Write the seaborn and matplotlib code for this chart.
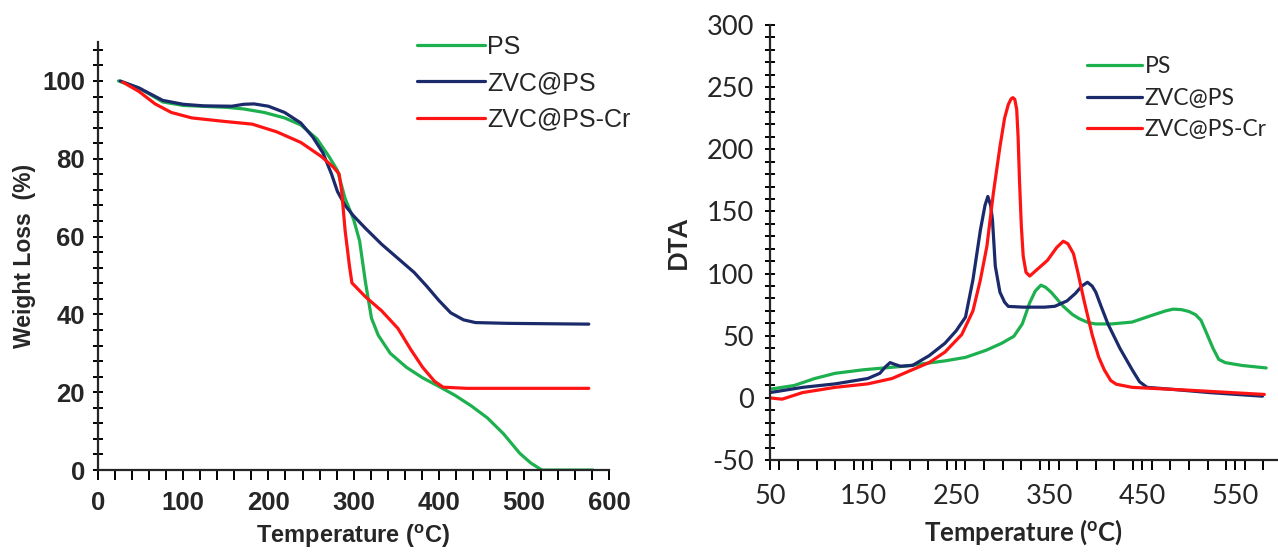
import matplotlib
matplotlib.use('Agg')
import matplotlib.pyplot as plt
from matplotlib.ticker import MultipleLocator
import seaborn as sns

# --- TGA (left) ---
tga_ps_t = [24, 48, 76, 100, 152, 171, 195, 219, 238, 257, 271, 281, 290, 300, 307, 314, 321, 329,
            343, 362, 381, 400, 419, 438, 457, 476, 495, 508, 521, 545, 581]
tga_ps_w = [100, 98.2, 94.6, 93.7, 93.2, 92.8, 91.9, 90.5, 88.7, 85.1, 80.6, 77, 69.8, 64.4, 58.9,
            48.1, 39, 34.6, 30, 26.4, 23.7, 21.5, 19.2, 16.5, 13.4, 9.3, 4.3, 1.8, 0, 0, 0]

tga_zvc_t = [26, 48, 76, 100, 124, 157, 171, 183, 200, 219, 238, 252, 264, 274, 281, 290, 300, 314,
             333, 352, 371, 386, 400, 414, 429, 443, 481, 576]
tga_zvc_w = [100, 98.2, 95, 94, 93.6, 93.5, 94, 94.1, 93.5, 91.9, 89.2, 85.6, 81.5, 76.1, 71.6, 68,
             65.3, 62.1, 58, 54.4, 50.8, 47.2, 43.6, 40.4, 38.6, 37.9, 37.7, 37.5]

tga_cr_t = [29, 48, 67, 86, 110, 148, 181, 210, 238, 262, 276, 283, 286, 290, 295, 298, 314, 333,
            352, 367, 381, 395, 405, 433, 576]
tga_cr_w = [99.7, 97.3, 94.1, 91.9, 90.5, 89.6, 88.9, 86.9, 84.2, 80.6, 77.9, 76.1, 71.6, 61.6, 52.6,
            48.1, 44.5, 40.9, 36.4, 31, 26.4, 22.8, 21.3, 21.0, 21.0]

# --- DTA (right) ---
dta_ps_t = [50, 76, 98, 120, 151, 194, 238, 260, 282, 299, 312, 321, 325, 329, 335, 341, 346, 352,
            365, 375, 382, 392, 400, 417, 439, 461, 475, 483, 492, 500, 507, 513, 519, 526, 532,
            539, 557, 583]
dta_ps_v = [7, 10, 15.6, 19.8, 22.7, 25.5, 29.8, 32.6, 38.3, 44, 49.6, 59.5, 68, 76.6, 86, 90.7, 89,
            85, 73.7, 67, 63.8, 60.5, 59.5, 59.5, 61, 66.6, 70, 71.4, 71, 69.5, 67, 62.4, 52, 39.7,
            31, 28.4, 26.1, 24.1]

dta_zvc_t = [50, 85, 120, 155, 168, 174, 179, 184, 190, 203, 221, 238, 250, 260, 268, 276, 281, 284,
             287, 289, 292, 297, 302, 306, 322, 345, 356, 369, 378, 385, 391, 396, 400, 406, 413,
             426, 439, 447, 455, 479, 522, 579]
dta_zvc_v = [4.3, 8.5, 11.3, 15.6, 19.8, 25, 28.4, 27, 25.5, 26.1, 34, 44, 54, 65, 95, 135, 155, 162,
             155, 143, 106, 85, 77, 73.6, 73, 73, 73.7, 78, 84, 90, 93, 90, 85, 73, 59.5, 39.7,
             22.7, 13, 8.5, 7.1, 4.3, 1.4]

dta_cr_t = [50, 63, 85, 120, 155, 181, 203, 221, 238, 256, 268, 276, 283, 290, 297, 302, 306, 309,
            311, 313, 315, 316.5, 318, 320, 322, 325, 329, 335, 348, 358, 365, 370, 376, 381, 387,
            396, 403, 409, 416, 422, 439, 500, 581]
dta_cr_v = [0, -1, 4.3, 8.5, 11.3, 15.6, 22.7, 28.4, 36.9, 51, 70, 95, 122, 165, 202, 225, 236, 240.5,
            241.5, 240, 232, 210, 175, 138, 114, 101, 98, 102, 110.6, 121, 126, 124, 116, 100, 79.4,
            51, 33, 22.7, 14, 11, 8.5, 6.2, 2.8]

labels = ['PS', 'ZVC@PS', 'ZVC@PS-Cr']
colors = ['#1db04f', '#1b2a6b', '#ff1414']

sns.set_style('ticks')
plt.rcParams['axes.linewidth'] = 1.6
plt.rcParams['axes.unicode_minus'] = False

fig = plt.figure(figsize=(12.78, 5.53), dpi=100)
ax1 = fig.add_axes([0.0767, 0.150, 0.400, 0.774])
ax2 = fig.add_axes([0.6025, 0.168, 0.397, 0.787])

arial = ['Liberation Sans', 'DejaVu Sans']
calib = ['Lato', 'DejaVu Sans']

# left panel
for t, w, lab, c in zip([tga_ps_t, tga_zvc_t, tga_cr_t], [tga_ps_w, tga_zvc_w, tga_cr_w], labels, colors):
    sns.lineplot(x=t, y=w, ax=ax1, color=c, label=lab, linewidth=2.3, sort=False)
ax1.set_xlim(0, 600)
ax1.set_ylim(0, 110)
ax1.xaxis.set_major_locator(MultipleLocator(100))
ax1.xaxis.set_minor_locator(MultipleLocator(20))
ax1.yaxis.set_major_locator(MultipleLocator(20))
ax1.yaxis.set_minor_locator(MultipleLocator(4))
ax1.tick_params(axis='both', which='both', width=1.4, color='black')
ax1.tick_params(axis='x', which='both', direction='out', length=7, pad=8)
ax1.tick_params(axis='y', which='both', direction='inout', length=7, pad=6)
for lbl in ax1.get_xticklabels() + ax1.get_yticklabels():
    lbl.set_fontfamily(arial)
    lbl.set_fontweight('bold')
    lbl.set_fontsize(18.5)
ax1.set_xlabel(r'Temperature ($\mathregular{^{o}}$C)', fontsize=17, fontweight='bold',
               family=arial, labelpad=6)
ax1.set_ylabel('Weight Loss  (%)', fontsize=16.5, fontweight='bold', family=arial, labelpad=4)
sns.despine(ax=ax1)
ax1.legend(loc='upper left', bbox_to_anchor=(0.58, 1.07), frameon=False, handlelength=2.7,
           handletextpad=0.1, labelspacing=0.5, prop={'family': arial, 'size': 18})

# right panel
for t, v, lab, c in zip([dta_ps_t, dta_zvc_t, dta_cr_t], [dta_ps_v, dta_zvc_v, dta_cr_v], labels, colors):
    sns.lineplot(x=t, y=v, ax=ax2, color=c, label=lab, linewidth=2.3, sort=False)
ax2.set_xlim(50, 595)
ax2.set_ylim(-50, 300)
ax2.set_xticks([50, 150, 250, 350, 450, 550])
ax2.xaxis.set_minor_locator(MultipleLocator(20))
ax2.yaxis.set_major_locator(MultipleLocator(50))
ax2.yaxis.set_minor_locator(MultipleLocator(10))
ax2.tick_params(axis='both', which='both', width=1.4, color='black')
ax2.tick_params(axis='x', which='both', direction='out', length=7, pad=10)
ax2.tick_params(axis='y', which='both', direction='inout', length=7, pad=8)
for lbl in ax2.get_xticklabels() + ax2.get_yticklabels():
    lbl.set_fontfamily(calib)
    lbl.set_fontsize(19.5)
ax2.set_xlabel(r'Temperature ($\mathregular{^{o}}$C)', fontsize=18.5, fontweight='bold',
               family=calib, labelpad=6)
ax2.set_ylabel('DTA', fontsize=18.5, fontweight='bold', family=calib, labelpad=12)
sns.despine(ax=ax2)
ax2.legend(loc='upper left', bbox_to_anchor=(0.585, 0.975), frameon=False, handlelength=2.4,
           handletextpad=0.1, labelspacing=0.45, prop={'family': calib, 'size': 16.5})

fig.savefig('out.png', dpi=100)
